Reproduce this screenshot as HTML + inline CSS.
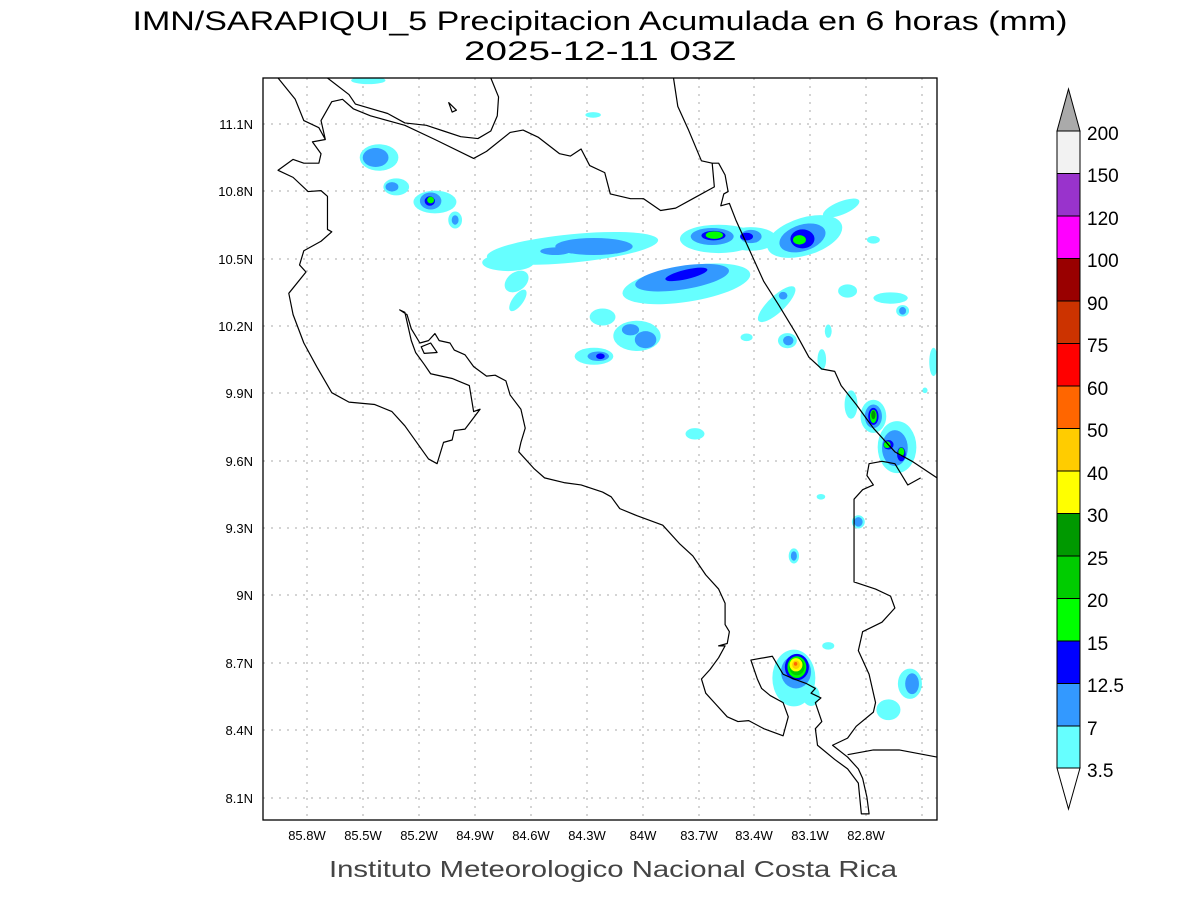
<!DOCTYPE html>
<html><head><meta charset="utf-8"><style>
html,body{margin:0;padding:0;background:#fff}
svg{display:block}
text{font-family:"Liberation Sans",sans-serif}
</style></head><body>
<svg width="1200" height="900" viewBox="0 0 1200 900">
<rect width="1200" height="900" fill="#fff"/>
<text x="600" y="30" font-size="27" text-anchor="middle" fill="#000" textLength="935" lengthAdjust="spacingAndGlyphs">IMN/SARAPIQUI_5 Precipitacion Acumulada en 6 horas (mm)</text>
<text x="600" y="60" font-size="27" text-anchor="middle" fill="#000" textLength="272" lengthAdjust="spacingAndGlyphs">2025-12-11 03Z</text>
<text x="613" y="877" font-size="23" text-anchor="middle" fill="#444" textLength="568" lengthAdjust="spacingAndGlyphs">Instituto Meteorologico Nacional Costa Rica</text>

<g stroke="#aaa" stroke-width="1" stroke-dasharray="2,6">
<line x1="307" y1="78" x2="307" y2="820"/><line x1="363" y1="78" x2="363" y2="820"/><line x1="419" y1="78" x2="419" y2="820"/><line x1="475" y1="78" x2="475" y2="820"/><line x1="531" y1="78" x2="531" y2="820"/><line x1="587" y1="78" x2="587" y2="820"/><line x1="643" y1="78" x2="643" y2="820"/><line x1="699" y1="78" x2="699" y2="820"/><line x1="754" y1="78" x2="754" y2="820"/><line x1="810" y1="78" x2="810" y2="820"/><line x1="866" y1="78" x2="866" y2="820"/><line x1="922" y1="78" x2="922" y2="820"/>
<line x1="263" y1="124" x2="937" y2="124"/><line x1="263" y1="191" x2="937" y2="191"/><line x1="263" y1="259" x2="937" y2="259"/><line x1="263" y1="326" x2="937" y2="326"/><line x1="263" y1="393" x2="937" y2="393"/><line x1="263" y1="461" x2="937" y2="461"/><line x1="263" y1="528" x2="937" y2="528"/><line x1="263" y1="595" x2="937" y2="595"/><line x1="263" y1="663" x2="937" y2="663"/><line x1="263" y1="730" x2="937" y2="730"/><line x1="263" y1="798" x2="937" y2="798"/>
</g>

<svg x="263" y="78" width="674" height="742" viewBox="0 0 1568 1568" preserveAspectRatio="none">
<g>
<!-- cyan -->
<g fill="#66ffff">
<ellipse cx="245" cy="5" rx="40" ry="8"/>
<ellipse cx="768" cy="78" rx="18" ry="6"/>
<ellipse cx="270" cy="168" rx="45" ry="28"/>
<ellipse cx="310" cy="230" rx="30" ry="18"/>
<ellipse cx="400" cy="262" rx="50" ry="24"/>
<ellipse cx="447" cy="300" rx="16" ry="18"/>
<ellipse cx="720" cy="360" rx="200" ry="30" transform="rotate(-5 720 360)"/>
<ellipse cx="570" cy="390" rx="60" ry="18"/>
<ellipse cx="590" cy="430" rx="30" ry="20" transform="rotate(-30 590 430)"/>
<ellipse cx="985" cy="435" rx="150" ry="38" transform="rotate(-8 985 435)"/>
<ellipse cx="1060" cy="340" rx="90" ry="30"/>
<ellipse cx="1135" cy="340" rx="60" ry="25"/>
<ellipse cx="1260" cy="335" rx="90" ry="40" transform="rotate(-15 1260 335)"/>
<ellipse cx="1345" cy="275" rx="45" ry="14" transform="rotate(-20 1345 275)"/>
<ellipse cx="593" cy="470" rx="12" ry="28" transform="rotate(40 593 470)"/>
<ellipse cx="1195" cy="478" rx="55" ry="18" transform="rotate(-40 1195 478)"/>
<ellipse cx="1360" cy="450" rx="22" ry="14"/>
<ellipse cx="1460" cy="465" rx="40" ry="12"/>
<ellipse cx="1488" cy="492" rx="15" ry="12"/>
<ellipse cx="1420" cy="342" rx="15" ry="8"/>
<ellipse cx="790" cy="505" rx="30" ry="18"/>
<ellipse cx="870" cy="545" rx="55" ry="32"/>
<ellipse cx="770" cy="588" rx="45" ry="18"/>
<ellipse cx="1125" cy="548" rx="14" ry="8"/>
<ellipse cx="1220" cy="555" rx="22" ry="16"/>
<ellipse cx="1315" cy="535" rx="8" ry="14"/>
<ellipse cx="1300" cy="595" rx="10" ry="22"/>
<ellipse cx="1368" cy="690" rx="15" ry="30"/>
<ellipse cx="1420" cy="715" rx="30" ry="35"/>
<ellipse cx="1475" cy="780" rx="45" ry="55"/>
<ellipse cx="1560" cy="600" rx="10" ry="30"/>
<ellipse cx="1540" cy="660" rx="6" ry="6"/>
<ellipse cx="1005" cy="752" rx="22" ry="12"/>
<ellipse cx="1298" cy="885" rx="10" ry="6"/>
<ellipse cx="1385" cy="938" rx="15" ry="14"/>
<ellipse cx="1235" cy="1010" rx="12" ry="16"/>
<ellipse cx="1235" cy="1268" rx="50" ry="60"/>
<ellipse cx="1275" cy="1305" rx="20" ry="22"/>
<ellipse cx="1315" cy="1200" rx="14" ry="8"/>
<ellipse cx="1505" cy="1280" rx="28" ry="32"/>
<ellipse cx="1455" cy="1335" rx="28" ry="22"/>
</g>
<g fill="#3399ff">
<ellipse cx="262" cy="168" rx="30" ry="20"/>
<ellipse cx="300" cy="230" rx="15" ry="10"/>
<ellipse cx="390" cy="260" rx="25" ry="18"/>
<ellipse cx="447" cy="300" rx="8" ry="10"/>
<ellipse cx="770" cy="356" rx="90" ry="18"/>
<ellipse cx="680" cy="366" rx="35" ry="8"/>
<ellipse cx="975" cy="422" rx="110" ry="25" transform="rotate(-8 975 422)"/>
<ellipse cx="1045" cy="335" rx="50" ry="18"/>
<ellipse cx="1135" cy="335" rx="25" ry="14"/>
<ellipse cx="1255" cy="338" rx="55" ry="28" transform="rotate(-15 1255 338)"/>
<ellipse cx="855" cy="532" rx="20" ry="12"/>
<ellipse cx="890" cy="553" rx="25" ry="18"/>
<ellipse cx="780" cy="588" rx="25" ry="10"/>
<ellipse cx="1210" cy="460" rx="10" ry="8"/>
<ellipse cx="1222" cy="555" rx="12" ry="10"/>
<ellipse cx="1420" cy="715" rx="20" ry="25"/>
<ellipse cx="1470" cy="782" rx="30" ry="38"/>
<ellipse cx="1385" cy="938" rx="10" ry="10"/>
<ellipse cx="1235" cy="1010" rx="7" ry="10"/>
<ellipse cx="1240" cy="1255" rx="35" ry="35"/>
<ellipse cx="1510" cy="1280" rx="16" ry="22"/>
<ellipse cx="1488" cy="492" rx="8" ry="8"/>
</g>
<g fill="#0000ff">
<ellipse cx="388" cy="260" rx="12" ry="10"/>
<ellipse cx="985" cy="415" rx="50" ry="10" transform="rotate(-12 985 415)"/>
<ellipse cx="1048" cy="333" rx="28" ry="10"/>
<ellipse cx="1125" cy="335" rx="15" ry="8"/>
<ellipse cx="1255" cy="340" rx="28" ry="20"/>
<ellipse cx="785" cy="588" rx="10" ry="6"/>
<ellipse cx="1420" cy="715" rx="12" ry="18"/>
<ellipse cx="1455" cy="775" rx="12" ry="10"/>
<ellipse cx="1485" cy="795" rx="10" ry="15"/>
<ellipse cx="1242" cy="1245" rx="28" ry="28"/>
</g>
<g fill="#00ff00">
<ellipse cx="390" cy="258" rx="8" ry="7"/>
<ellipse cx="1050" cy="332" rx="20" ry="8"/>
<ellipse cx="1248" cy="342" rx="15" ry="10"/>
<ellipse cx="1420" cy="715" rx="8" ry="14"/>
<ellipse cx="1452" cy="775" rx="8" ry="7"/>
<ellipse cx="1485" cy="790" rx="7" ry="9"/>
<ellipse cx="1242" cy="1245" rx="22" ry="23"/>
</g>
<ellipse cx="1242" cy="1244" rx="18" ry="18" fill="#00cc00"/>
<ellipse cx="1420" cy="712" rx="5" ry="9" fill="#009900"/>
<ellipse cx="1240" cy="1240" rx="15" ry="14" fill="#ffff00"/>
<ellipse cx="1240" cy="1240" rx="9" ry="9" fill="#ffcc00"/>
<ellipse cx="1239" cy="1238" rx="4" ry="4" fill="#ff6600"/>
</g>
<g fill="none" stroke="#000" stroke-width="1.2" vector-effect="non-scaling-stroke" stroke-linejoin="round">
<polyline vector-effect="non-scaling-stroke" points="150,0 200,35 215,55 290,75 330,95 380,100 420,112 460,124 500,128 530,112 545,80 548,40 530,0"/>
<polygon vector-effect="non-scaling-stroke" points="432,52 440,72 450,68"/>
<polyline vector-effect="non-scaling-stroke" points="35,0 75,45 95,90 130,105 145,130 135,90 160,50 185,45 210,65 250,80 330,100 400,130 490,170 520,155 575,115 605,110 640,125 690,160 715,165 740,150 760,185 795,200 808,245 855,255 885,255 925,280 960,275 1000,255 1050,230 1045,180 1060,180 1075,205 1082,240 1072,245 1065,270 1085,265 1100,300 1130,360 1165,430 1200,480 1240,540 1270,590 1300,615 1330,620 1345,650 1380,690 1420,740 1470,790 1510,810 1568,845"/>
<polyline vector-effect="non-scaling-stroke" points="955,0 965,60 990,110 1020,175 1045,180"/>
<polyline vector-effect="non-scaling-stroke" points="145,130 115,135 135,160 130,180 95,180 70,172 35,195 70,210 105,240 135,238 150,250 150,320 160,325 135,345 95,365 85,395 100,410 60,455 70,500 95,560 125,610 160,665 200,685 260,690 300,705 330,735 385,805 405,815 420,770 440,765 445,745 470,742 505,700 490,705 480,650 440,635 390,625 375,605 355,580 345,555 330,495 318,490 335,500 345,530 365,560 385,555 400,540 410,555 435,560 445,575 470,585 490,610 520,630 540,628 565,640 575,670 600,700 610,740 600,770 595,790 630,825 655,845 700,855 740,860 790,875 810,885 830,910 870,925 930,945 970,985 1000,1010 1030,1050 1060,1080 1075,1110 1075,1155 1085,1170 1080,1195 1060,1200 1075,1200 1060,1225 1040,1250 1020,1270 1030,1300 1050,1320 1080,1350 1105,1360 1130,1358 1165,1375 1210,1390 1222,1350 1210,1320 1180,1305 1160,1290 1150,1270 1135,1230 1185,1222 1210,1260 1235,1270 1265,1280 1285,1290 1275,1300 1298,1310 1285,1320 1300,1360 1285,1375 1290,1410 1330,1440 1360,1460 1385,1490 1392,1555 1410,1555 1405,1520 1395,1480 1385,1460 1360,1435 1325,1410 1360,1395 1380,1370 1420,1340 1425,1320 1410,1260 1385,1210 1395,1170 1440,1150 1470,1120 1460,1095 1425,1080 1375,1065 1375,890 1395,870 1420,860 1405,840 1410,815 1440,810 1470,815 1500,860 1530,845"/>
<polyline vector-effect="non-scaling-stroke" points="1360,1430 1420,1420 1480,1420 1568,1435"/>
<polygon vector-effect="non-scaling-stroke" points="368,568 375,582 405,580 390,560"/>
</g>
</svg>
<rect x="263" y="78" width="674" height="742" fill="none" stroke="#000" stroke-width="1.3"/>

<g font-size="13" fill="#000" text-anchor="middle">
<text x="307" y="840">85.8W</text><text x="363" y="840">85.5W</text><text x="419" y="840">85.2W</text><text x="475" y="840">84.9W</text><text x="531" y="840">84.6W</text><text x="587" y="840">84.3W</text><text x="643" y="840">84W</text><text x="699" y="840">83.7W</text><text x="754" y="840">83.4W</text><text x="810" y="840">83.1W</text><text x="866" y="840">82.8W</text>
</g>
<g font-size="13" fill="#000" text-anchor="end">
<text x="253" y="129">11.1N</text><text x="253" y="196">10.8N</text><text x="253" y="264">10.5N</text><text x="253" y="331">10.2N</text><text x="253" y="398">9.9N</text><text x="253" y="466">9.6N</text><text x="253" y="533">9.3N</text><text x="253" y="600">9N</text><text x="253" y="668">8.7N</text><text x="253" y="735">8.4N</text><text x="253" y="803">8.1N</text>
</g>

<g stroke="#000" stroke-width="1">
<polygon points="1057,131 1068.5,89 1080,131" fill="#aaaaaa"/>
<rect x="1057" y="131" width="23" height="42.5" fill="#f2f2f2"/>
<rect x="1057" y="173.5" width="23" height="42.5" fill="#9933cc"/>
<rect x="1057" y="216" width="23" height="42.5" fill="#ff00ff"/>
<rect x="1057" y="258.5" width="23" height="42.5" fill="#990000"/>
<rect x="1057" y="301" width="23" height="42.5" fill="#cc3300"/>
<rect x="1057" y="343.5" width="23" height="42.5" fill="#ff0000"/>
<rect x="1057" y="386" width="23" height="42.5" fill="#ff6600"/>
<rect x="1057" y="428.5" width="23" height="42.5" fill="#ffcc00"/>
<rect x="1057" y="471" width="23" height="42.5" fill="#ffff00"/>
<rect x="1057" y="513.5" width="23" height="42.5" fill="#009900"/>
<rect x="1057" y="556" width="23" height="42.5" fill="#00cc00"/>
<rect x="1057" y="598.5" width="23" height="42.5" fill="#00ff00"/>
<rect x="1057" y="641" width="23" height="42.5" fill="#0000ff"/>
<rect x="1057" y="683.5" width="23" height="42.5" fill="#3399ff"/>
<rect x="1057" y="726" width="23" height="42" fill="#66ffff"/>
<polygon points="1057,768 1068.5,809 1080,768" fill="#fff"/>
</g>
<g font-size="19" fill="#000">
<text x="1087" y="140">200</text><text x="1087" y="182">150</text><text x="1087" y="225">120</text><text x="1087" y="267">100</text><text x="1087" y="310">90</text><text x="1087" y="352">75</text><text x="1087" y="395">60</text><text x="1087" y="437">50</text><text x="1087" y="480">40</text><text x="1087" y="522">30</text><text x="1087" y="565">25</text><text x="1087" y="607">20</text><text x="1087" y="650">15</text><text x="1087" y="692">12.5</text><text x="1087" y="735">7</text><text x="1087" y="777">3.5</text>
</g>
</svg>
</body></html>
